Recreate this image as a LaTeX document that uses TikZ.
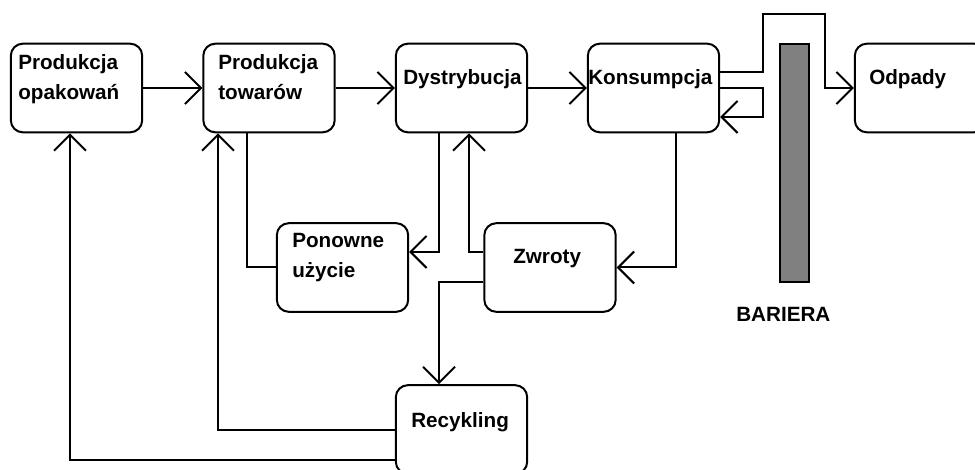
\documentclass[tikz,border=0pt]{standalone}
\usepackage{fontspec}
\setmainfont{Liberation Sans}
\usetikzlibrary{arrows.meta}
\definecolor{bargray}{RGB}{128,128,128}
\begin{document}
\begin{tikzpicture}[x=0.75pt,y=-0.75pt,
  box/.style={draw, line width=1.5pt, rounded corners=9pt, minimum width=98.5pt, minimum height=66.5pt, inner sep=0pt},
  lbl/.style={font=\fontsize{15.5}{22.5}\selectfont\bfseries, inner sep=0pt, anchor=base west, text width=110pt, align=left},
  conn/.style={line width=1.5pt, line join=miter},
  arr/.style={conn, -{Straight Barb[length=12pt,width=24pt,line width=1.5pt]}},
]
\useasboundingbox (0,0) rectangle (975,470);
\clip (0,0) rectangle (975,470);

% boxes
\node[box] (po) at (76.5,88) {};
\node[box] (pt) at (269,88) {};
\node[box] (dy) at (461.5,88) {};
\node[box] (ko) at (653.5,88) {};
\node[box] (od) at (920.5,88) {};
\node[box] (pu) at (342.5,267.5) {};
\node[box] (zw) at (550,267.5) {};
\node[box] (re) at (461.5,429.5) {};

% barrier
\node[draw, fill=bargray, line width=1.5pt, minimum width=22pt, minimum height=179pt, inner sep=0pt] (bar) at (794.5,163) {};

% labels
\node[lbl] (tpo) at (18,70) {Produkcja\\opakowań};
\node[lbl] (tpt) at (218,70) {Produkcja\\towarów};
\node[lbl] (tdy) at (403,85) {Dystrybucja};
\node[lbl] (tko) at (588,85) {Konsumpcja};
\node[lbl] (tod) at (869,85) {Odpady};
\node[lbl] (tpu) at (292,248) {Ponowne\\użycie};
\node[lbl] (tzw) at (513,264) {Zwroty};
\node[lbl] (tre) at (411,427) {Recykling};
\node[lbl] (tba) at (736,322) {BARIERA};

% main flow
\draw[arr] (po) -- (pt);
\draw[arr] (pt) -- (dy);
\draw[arr] (dy) -- (ko);

% to waste, over the barrier
\draw[arr] ([yshift=12pt]ko.east) -| (763,14) -- (825,14) |- (od.west);
% return loop
\draw[arr] (ko.east) -| (763,117) -- ([yshift=-21.75pt]ko.east);

% consumption -> returns
\draw[arr] ([xshift=16.875pt]ko.south) |- (zw.east);
% distribution -> reuse
\draw[arr] ([xshift=-16.875pt]dy.south) |- ([yshift=11.625pt]pu.east);
% returns -> distribution
\draw[arr] ([yshift=11.625pt]zw.west) -| ([xshift=5.625pt]dy.south);
% returns -> recycling
\draw[arr] ([yshift=-10.875pt]zw.west) -| ([xshift=-16.875pt]re.north);
% production -> reuse (plain line)
\draw[conn] ([xshift=-16.5pt]pt.south) |- (pu.west);
% recycling -> production of goods
\draw[arr] (re.west) -| ([xshift=-38.25pt]pt.south);
% recycling -> packaging production
\draw[arr] ([yshift=-22.875pt]re.west) -| ([xshift=-4.875pt]po.south);
\end{tikzpicture}
\end{document}
